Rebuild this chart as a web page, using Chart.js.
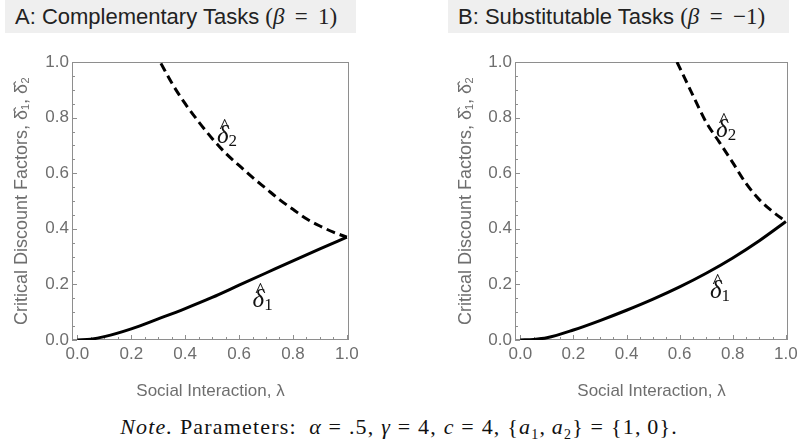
<!DOCTYPE html>
<html>
<head>
<meta charset="utf-8">
<script src="https://cdn.jsdelivr.net/npm/chart.js@4.4.1/dist/chart.umd.min.js"></script>
<style>
  body { margin: 0; background: #fff; width: 798px; height: 444px; overflow: hidden; position: relative; }
  .panel { position: absolute; top: 0; height: 410px; }
  .title {
    position: absolute; top: 0; height: 33px; background: #efefef;
    font: 22px "Liberation Sans", Arial, sans-serif; color: #222;
    line-height: 33px; white-space: nowrap; box-sizing: border-box;
  }
  .title .m { font-family: "Liberation Serif", "DejaVu Serif", serif; font-size: 23px; }
  .note {
    position: absolute; left: 0; width: 798px; top: 414px; text-align: center;
    font: 22px "Liberation Serif", "DejaVu Serif", serif; color: #111;
    letter-spacing: 1.2px; white-space: nowrap;
  }
  .note sub { font-size: 14px; }
</style>
</head>
<body>
<div class="title" style="left:5px;width:351px;padding-left:10px;">A: Complementary Tasks <span class="m">(<i>β</i>&thinsp; = &thinsp;1)</span></div>
<div class="title" style="left:448px;width:341px;padding-left:10px;">B: Substitutable Tasks <span class="m">(<i>β</i>&thinsp; = &thinsp;−1)</span></div>
<div class="panel" style="left:0;width:400px;"><canvas id="chartA"></canvas></div>
<div class="panel" style="left:400px;width:398px;"><canvas id="chartB"></canvas></div>
<div class="note"><i>Note.</i> Parameters:&ensp;<i>α</i> = .5, <i>γ</i> = 4, <i>c</i> = 4, {<i>a</i><sub>1</sub>,&thinsp;<i>a</i><sub>2</sub>} = {1,&thinsp;0}.</div>

<script>
// panel A: complementary tasks (beta = 1)
const lambdaA1 = [0, 0.05, 0.1, 0.2, 0.3, 0.4, 0.5, 0.6, 0.7, 0.8, 0.9, 1.0];
const delta1A  = [0, 0.003, 0.012, 0.04, 0.076, 0.113, 0.153, 0.197, 0.241, 0.285, 0.328, 0.37];
const lambdaA2 = [0.31, 0.35, 0.4, 0.45, 0.5, 0.55, 0.6, 0.65, 0.7, 0.75, 0.8, 0.85, 0.9, 0.95, 1.0];
const delta2A  = [0.995, 0.925, 0.85, 0.785, 0.725, 0.672, 0.628, 0.585, 0.545, 0.505, 0.47, 0.436, 0.41, 0.388, 0.37];

// panel B: substitutable tasks (beta = -1)
const lambdaB1 = [0, 0.05, 0.1, 0.2, 0.3, 0.4, 0.5, 0.6, 0.7, 0.8, 0.9, 1.0];
const delta1B  = [0, 0.002, 0.008, 0.036, 0.07, 0.107, 0.147, 0.191, 0.24, 0.295, 0.357, 0.426];
const lambdaB2 = [0.59, 0.62, 0.65, 0.7, 0.75, 0.8, 0.85, 0.9, 0.95, 1.0];
const delta2B  = [1.0, 0.94, 0.88, 0.783, 0.711, 0.638, 0.563, 0.505, 0.462, 0.426];

const tickValues = [0, 0.2, 0.4, 0.6, 0.8, 1.0];
const minorValues = [];
for (let i = 0; i <= 20; i++) minorValues.push(i * 0.05);

const grey = '#6e6e6e';
const frameColor = '#8e8e8e';
const sans = '"Liberation Sans", Arial, sans-serif';
const serif = '"Liberation Serif", "DejaVu Serif", serif';

function toPoints(xs, ys) {
    return xs.map((x, i) => ({ x: x, y: ys[i] }));
}

// frame round the plot area plus inward ticks (Mathematica style)
const framePlugin = {
    id: 'frame',
    beforeDatasetsDraw(chart) {
        const { ctx, chartArea: a, scales: { x, y } } = chart;
        ctx.save();
        ctx.strokeStyle = frameColor;
        ctx.lineWidth = 1;
        ctx.strokeRect(Math.round(a.left) + 0.5, Math.round(a.top) + 0.5,
            Math.round(a.right - a.left) - 1, Math.round(a.bottom - a.top) - 1);
        ctx.beginPath();
        minorValues.forEach((v, i) => {
            const len = i % 4 === 0 ? 5 : 3;
            const px = Math.round(x.getPixelForValue(v)) + 0.5;
            ctx.moveTo(px, a.bottom);
            ctx.lineTo(px, a.bottom - len);
            const py = Math.round(y.getPixelForValue(v)) + 0.5;
            ctx.moveTo(a.left, py);
            ctx.lineTo(a.left + len, py);
        });
        ctx.stroke();
        ctx.restore();
    },
    // curve labels, delta-hat with subscript
    afterDatasetsDraw(chart) {
        const { ctx, scales: { x, y } } = chart;
        const labels = chart.options.plugins.frame.labels;
        ctx.save();
        ctx.fillStyle = '#111';
        ctx.textBaseline = 'alphabetic';
        labels.forEach(l => {
            const px = x.getPixelForValue(l.x);
            const py = y.getPixelForValue(l.y);
            ctx.textAlign = 'left';
            ctx.font = 'italic 25px ' + serif;
            ctx.fillText('δ', px, py);
            const w = ctx.measureText('δ').width;
            ctx.textAlign = 'center';
            ctx.font = '22px ' + serif;
            ctx.fillText('^', px + w / 2 + 2, py - 10);
            ctx.textAlign = 'left';
            ctx.font = '17px ' + serif;
            ctx.fillText(l.sub, px + w, py + 3);
        });
        ctx.restore();
    }
};

function makeChart(id, l1, d1, l2, d2, yWidth, yTitlePad, rightPad, labels) {
    const ctx = document.getElementById(id).getContext('2d');
    return new Chart(ctx, {
        type: 'line',
        data: {
            datasets: [{
                data: toPoints(l1, d1),
                borderColor: '#000',
                borderWidth: 3,
                pointRadius: 0,
                cubicInterpolationMode: 'monotone',
                fill: false
            }, {
                data: toPoints(l2, d2),
                borderColor: '#000',
                borderWidth: 3,
                borderDash: [9, 5],
                pointRadius: 0,
                cubicInterpolationMode: 'monotone',
                fill: false
            }]
        },
        options: {
            responsive: false,
            animation: false,
            layout: { padding: { top: 62, left: 0, right: rightPad, bottom: 8 } },
            plugins: {
                legend: { display: false },
                tooltip: { enabled: false },
                frame: { labels: labels }
            },
            scales: {
                x: {
                    type: 'linear',
                    min: -0.02,
                    max: 1.008,
                    grid: { display: false, drawTicks: false },
                    border: { display: false },
                    ticks: {
                        color: grey,
                        padding: 4,
                        font: { family: sans, size: 17 },
                        callback: v => v.toFixed(1)
                    },
                    afterBuildTicks: s => { s.ticks = tickValues.map(v => ({ value: v })); },
                    afterFit: s => { s.height = 62; s.paddingLeft = 0; s.paddingRight = 0; },
                    title: {
                        display: true,
                        text: 'Social Interaction, λ',
                        color: grey,
                        padding: { top: 0, bottom: 0 },
                        font: { family: sans, size: 17 }
                    }
                },
                y: {
                    type: 'linear',
                    min: 0,
                    max: 1,
                    grid: { display: false, drawTicks: false },
                    border: { display: false },
                    ticks: {
                        color: grey,
                        padding: 3,
                        font: { family: sans, size: 17 },
                        callback: v => v.toFixed(1)
                    },
                    afterBuildTicks: s => { s.ticks = tickValues.map(v => ({ value: v })); },
                    afterFit: s => { s.width = yWidth; s.paddingTop = 0; s.paddingBottom = 0; },
                    title: {
                        display: true,
                        text: 'Critical Discount Factors, δ̂₁, δ̂₂',
                        color: grey,
                        padding: { top: yTitlePad, bottom: 0 },
                        font: { family: sans, size: 18 }
                    }
                }
            }
        },
        plugins: [framePlugin]
    });
}

document.getElementById('chartA').width = 400;
document.getElementById('chartA').height = 410;
document.getElementById('chartB').width = 398;
document.getElementById('chartB').height = 410;

makeChart('chartA', lambdaA1, delta1A, lambdaA2, delta2A, 72, 11.2, 51,
    [{ x: 0.518, y: 0.71, sub: '2' }, { x: 0.65, y: 0.12, sub: '1' }]);
makeChart('chartB', lambdaB1, delta1B, lambdaB2, delta2B, 115, 55.2, 10,
    [{ x: 0.737, y: 0.73, sub: '2' }, { x: 0.714, y: 0.15, sub: '1' }]);
</script>
</body>
</html>
